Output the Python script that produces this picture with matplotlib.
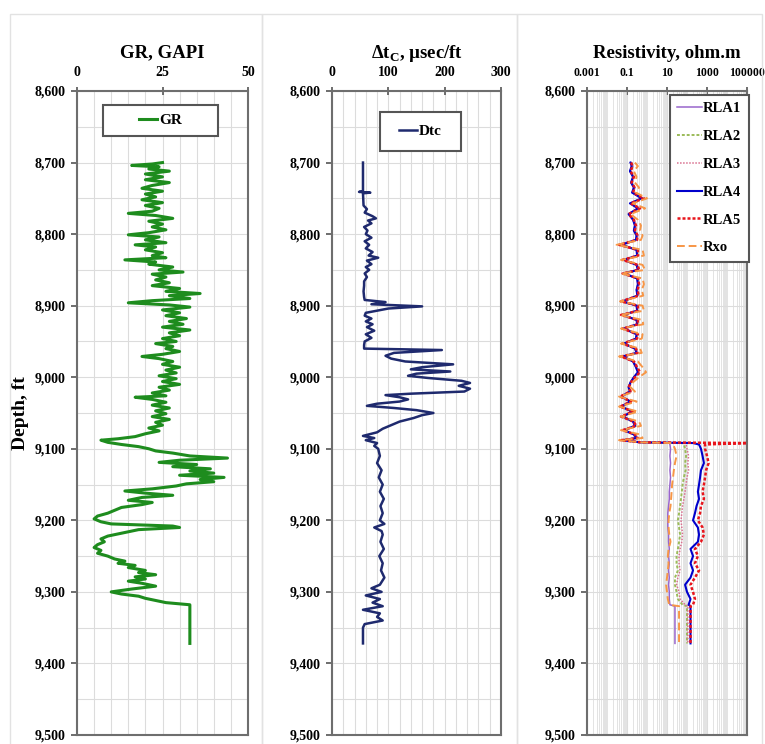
import numpy as np
import matplotlib
matplotlib.use("Agg")
from matplotlib import pyplot as plt
from matplotlib.patches import Rectangle
from matplotlib.ticker import FuncFormatter, MultipleLocator, FixedLocator, LogLocator, NullFormatter

# ---- GR track (depth ft, GAPI) ----
gr_depth = [8700, 8702, 8704, 8706, 8709, 8712, 8716, 8720, 8724, 8728, 8732, 8736, 8740, 8744,
            8748, 8752, 8756, 8760, 8764, 8768, 8771, 8774, 8778, 8782, 8786, 8790, 8794, 8798,
            8801, 8804, 8808, 8812, 8815, 8818, 8822, 8826, 8830, 8833, 8836, 8839, 8842, 8846,
            8850, 8853, 8856, 8860, 8864, 8868, 8872, 8876, 8880, 8883, 8886, 8890, 8893, 8896,
            8899, 8902, 8906, 8910, 8914, 8918, 8922, 8926, 8930, 8934, 8938, 8942, 8946, 8950,
            8953, 8957, 8960, 8964, 8968, 8971, 8974, 8978, 8982, 8986, 8990, 8994, 8998, 9002,
            9006, 9010, 9014, 9018, 9022, 9026, 9028, 9031, 9035, 9039, 9043, 9047, 9051, 9055,
            9059, 9063, 9067, 9071, 9075, 9079, 9083, 9086, 9088, 9091, 9094, 9097, 9100, 9103,
            9106, 9110, 9113, 9116, 9119, 9122, 9125, 9128, 9131, 9134, 9137, 9140, 9143, 9146,
            9149, 9152, 9156, 9159, 9162, 9165, 9168, 9172, 9175, 9178, 9182, 9186, 9190, 9194,
            9198, 9202, 9205, 9208, 9210, 9213, 9216, 9219, 9222, 9226, 9230, 9234, 9238, 9242,
            9246, 9250, 9254, 9257, 9260, 9263, 9266, 9270, 9273, 9276, 9279, 9282, 9285, 9288,
            9292, 9296, 9300, 9303, 9306, 9309, 9312, 9315, 9318, 9372]
gr_value = [25, 22, 16, 24, 21, 27, 20, 25, 20, 27, 22, 19, 25, 20,
            23, 19, 25, 20, 24, 22, 15, 23, 28, 21, 25, 22, 26, 21,
            15, 24, 20, 26, 17, 23, 20, 25, 22, 26, 14, 23, 21, 28,
            24, 31, 22, 26, 23, 27, 22, 30, 26, 36, 27, 33, 22, 15,
            27, 33, 25, 30, 26, 32, 27, 31, 25, 33, 27, 30, 25, 29,
            23, 28, 26, 30, 25, 19, 24, 28, 25, 30, 26, 29, 24, 29,
            25, 30, 24, 27, 22, 26, 17, 22, 26, 22, 27, 23, 26, 22,
            27, 23, 25, 21, 24, 20, 17, 12, 7, 9, 13, 18, 21, 23,
            28, 33, 44, 30, 24, 35, 28, 39, 33, 40, 30, 43, 36, 40,
            32, 29, 22, 14, 20, 28, 19, 15, 22, 19, 13, 11, 9, 6,
            5, 7, 10, 28, 30, 18, 15, 12, 9, 7, 8, 6, 5, 7,
            6, 9, 11, 14, 12, 17, 15, 20, 18, 23, 17, 20, 15, 19,
            23, 16, 10, 13, 18, 20, 23, 26, 33, 33]

# ---- Sonic track (depth ft, usec/ft) ----
dtc_depth = [8700, 8740, 8741, 8742, 8743, 8760, 8765, 8770, 8775, 8778, 8781, 8785, 8790, 8795,
             8800, 8805, 8810, 8815, 8820, 8825, 8830, 8833, 8837, 8842, 8846, 8850, 8855, 8860,
             8866, 8872, 8880, 8888, 8892, 8895, 8898, 8901, 8904, 8907, 8910, 8914, 8918, 8922,
             8926, 8930, 8935, 8940, 8945, 8950, 8955, 8960, 8962, 8966, 8970, 8974, 8978, 8982,
             8986, 8989, 8992, 8995, 8998, 9001, 9005, 9008, 9012, 9016, 9020, 9023, 9025, 9028,
             9031, 9034, 9037, 9040, 9043, 9046, 9050, 9053, 9057, 9062, 9067, 9072, 9077, 9082,
             9085, 9088, 9092, 9096, 9100, 9110, 9120, 9130, 9140, 9150, 9160, 9170, 9180, 9190,
             9200, 9205, 9210, 9215, 9220, 9230, 9240, 9250, 9260, 9270, 9280, 9290, 9295, 9300,
             9305, 9310, 9315, 9320, 9325, 9330, 9335, 9340, 9345, 9350, 9372]
dtc_value = [55, 55, 48, 68, 55, 56, 62, 58, 72, 78, 64, 70, 57, 63,
             60, 70, 58, 66, 60, 72, 65, 82, 62, 70, 60, 66, 58, 62,
             57, 57, 56, 57, 58, 95, 70, 160, 100, 80, 60, 58, 70, 60,
             72, 62, 75, 60, 70, 58, 57, 57, 195, 110, 95, 105, 130, 215,
             160, 140, 210, 150, 135, 170, 230, 245, 225, 245, 235, 140, 95, 120,
             135, 120, 80, 62, 110, 150, 180, 160, 145, 120, 105, 90, 80, 55,
             75, 60, 80, 75, 82, 85, 80, 88, 83, 90, 85, 92, 86, 90,
             85, 93, 75, 88, 90, 86, 92, 84, 90, 87, 93, 85, 70, 88,
             60, 85, 72, 90, 55, 85, 80, 90, 58, 55, 55]

# ---- Resistivity track (depth ft, ohm.m) ----
res_depth = [8700, 8705, 8712, 8720, 8728, 8735, 8742, 8750, 8757, 8764, 8772, 8780, 8788, 8795,
             8802, 8808, 8815, 8822, 8830, 8836, 8843, 8850, 8855, 8862, 8870, 8878, 8886, 8894,
             8900, 8907, 8913, 8920, 8926, 8932, 8940, 8946, 8953, 8960, 8966, 8971, 8978, 8986,
             8993, 9000, 9007, 9014, 9020, 9027, 9034, 9041, 9048, 9055, 9062, 9068, 9074, 9080,
             9085, 9088, 9091, 9092, 9094, 9100, 9110, 9120, 9130, 9140, 9150, 9160, 9170, 9180,
             9190, 9200, 9210, 9220, 9230, 9240, 9250, 9260, 9270, 9280, 9290, 9300, 9310, 9318,
             9320, 9372]
rla1 = [.15, .18, .14, .20, .16, .22, .18, .50, .15, .35, .12, .20, .25, .22,
        .30, .28, .06, .30, .32, .08, .30, .35, .08, .32, .35, .30, .33, .07,
        .30, .32, .07, .30, .32, .08, .30, .28, .08, .25, .30, .07, .20, .28,
        .35, .22, .15, .12, .14, .06, .15, .06, .18, .07, .20, .25, .08, .22,
        .30, .07, .40, 13, 14, 15, 14, 15, 14, 15, 14, 13, 13, 12,
        11, 11, 11, 12, 12, 13, 12, 13, 12, 13, 12, 13, 13, 14,
        25, 25]
rla2 = [.16, .20, .15, .22, .17, .24, .20, .60, .16, .40, .13, .22, .28, .25,
        .32, .30, .05, .32, .35, .07, .33, .38, .07, .35, .38, .33, .36, .06,
        .33, .35, .06, .32, .35, .07, .33, .30, .07, .28, .32, .06, .22, .30,
        .40, .25, .16, .13, .15, .05, .16, .05, .20, .06, .22, .28, .07, .25,
        .32, .06, .45, 60, 70, 80, 90, 80, 85, 70, 60, 55, 50, 45,
        40, 35, 40, 45, 40, 35, 30, 30, 35, 25, 25, 30, 35, 60,
        100, 100]
rla3 = [.17, .20, .16, .22, .18, .25, .20, .65, .17, .45, .13, .24, .30, .26,
        .35, .32, .05, .35, .36, .07, .35, .40, .07, .36, .40, .35, .38, .06,
        .35, .36, .06, .35, .36, .07, .35, .32, .07, .30, .35, .06, .24, .32,
        .42, .26, .17, .13, .16, .05, .17, .05, .20, .06, .24, .30, .07, .26,
        .35, .06, .50, 80, 90, 100, 120, 110, 120, 100, 90, 80, 70, 60,
        55, 50, 55, 60, 55, 45, 40, 40, 45, 35, 30, 40, 45, 80,
        110, 110]
rla4 = [.15, .17, .14, .20, .16, .22, .18, .55, .14, .35, .12, .20, .25, .22,
        .30, .28, .05, .30, .32, .07, .30, .35, .07, .32, .35, .30, .33, .06,
        .30, .32, .06, .30, .32, .07, .30, .28, .07, .25, .30, .06, .20, .28,
        .35, .22, .15, .12, .14, .05, .15, .05, .18, .06, .20, .25, .07, .22,
        .30, .06, .45, 200, 400, 500, 600, 700, 500, 450, 400, 350, 400, 300,
        250, 200, 350, 400, 350, 150, 200, 150, 200, 150, 80, 100, 150, 120,
        150, 150]
rla5 = [.16, .19, .15, .22, .17, .24, .20, .70, .15, .45, .12, .22, .28, .25,
        .34, .32, .04, .35, .36, .06, .34, .40, .06, .36, .40, .34, .38, .05,
        .35, .36, .05, .34, .36, .06, .35, .32, .06, .28, .34, .05, .22, .32,
        .45, .25, .16, .12, .15, .045, .16, .045, .20, .05, .22, .28, .06, .25,
        .35, .05, .50, 100000, 800, 800, 1000, 1200, 900, 800, 700, 600, 700, 500,
        450, 350, 600, 700, 500, 250, 350, 250, 400, 250, 150, 200, 250, 200,
        150, 150]
rxo = [.25, .35, .22, .30, .25, .40, .28, 1.0, .20, .80, .15, .35, .50, .45,
       .60, .50, .03, .60, .70, .05, .60, .80, .05, .60, .70, .55, .65, .045,
       .60, .70, .045, .60, .65, .05, .60, .55, .05, .45, .55, .04, .35, .60,
       .90, .40, .20, .15, .25, .04, .30, .04, .35, .05, .40, .50, .05, .45,
       .60, .04, .50, 15, 20, 25, 30, 25, 22, 20, 18, 17, 16, 15,
       13, 12, 12, 13, 15, 12, 11, 12, 11, 10, 9, 10, 11, 13,
       40, 40]

res_names = ["RLA1", "RLA2", "RLA3", "RLA4", "RLA5", "Rxo"]
res_colors = ["#9966CC", "#9BBB59", "#D9708F", "#0000CC", "#E8141B", "#F79646"]
res_styles = ["-", (0, (1.5, 1)), (0, (1, 1)), "-", (0, (1.2, 0.8)), (0, (4, 2))]
res_widths = [1.1, 1.4, 1.1, 1.5, 1.8, 1.4]

plt.rcParams['font.family'] = ['Liberation Serif', 'DejaVu Serif']
plt.rcParams['font.weight'] = 'bold'

W, H = 765, 744
fig = plt.figure(figsize=(W / 100, H / 100), dpi=100)


def add_track(left, right, top=91, bottom=735):
    return fig.add_axes([left / W, 1 - bottom / H, (right - left) / W, (bottom - top) / H])


def style_track(ax):
    ax.set_ylim(9500, 8600)
    ax.yaxis.set_major_locator(MultipleLocator(100))
    ax.yaxis.set_minor_locator(MultipleLocator(50))
    ax.yaxis.set_major_formatter(FuncFormatter(lambda v, p: f"{v:,.0f}"))
    ax.xaxis.tick_top()
    ax.set_axisbelow(True)
    ax.grid(True, which='both', color='#dcdcdc', lw=0.8)
    ax.tick_params(axis='y', which='major', direction='out', length=4, width=1.2,
                   color='#555555', labelsize=10, pad=4)
    ax.tick_params(axis='x', which='major', direction='inout', length=6, width=1.2,
                   color='#555555', labelsize=10, pad=6)
    ax.tick_params(which='minor', length=0)
    for s in ax.spines.values():
        s.set_color('#6e6e6e')
        s.set_linewidth(1.5)


def legend_box(ax, x0, x1, y0, y1):
    ax.add_patch(Rectangle((x0, y0), x1 - x0, y1 - y0, transform=ax.transAxes,
                           fill=True, fc='white', ec='#555555', lw=1.5, zorder=5))


# panel frames
for fx0, fx1 in [(10, 262), (262, 517), (517, 762)]:
    fig.patches.append(Rectangle((fx0 / W, -0.01), (fx1 - fx0) / W, 1 - 14 / H + 0.01,
                                 transform=fig.transFigure, fill=False, ec='#e2e2e2', lw=1))

# GR
ax1 = add_track(77, 248)
style_track(ax1)
ax1.set_xlim(0, 50)
ax1.xaxis.set_major_locator(MultipleLocator(25))
ax1.xaxis.set_minor_locator(MultipleLocator(5))
ax1.plot(gr_value, gr_depth, color='#1E8C1E', lw=2.2, label='GR')
ax1.set_title('GR, GAPI', fontsize=13.5, fontweight='bold', pad=24)
ax1.set_ylabel('Depth, ft', fontsize=14, fontweight='bold', labelpad=4)
legend_box(ax1, 0.152, 0.825, 0.930, 0.978)
ax1.legend(loc='center', bbox_to_anchor=(0.49, 0.954), frameon=False, fontsize=11,
           handlelength=1.2, handletextpad=0.15).set_zorder(6)

# Sonic
ax2 = add_track(332, 501)
style_track(ax2)
ax2.set_xlim(0, 300)
ax2.xaxis.set_major_locator(MultipleLocator(100))
ax2.xaxis.set_minor_locator(MultipleLocator(20))
ax2.plot(dtc_value, dtc_depth, color='#1F2A6E', lw=1.8, label='Dtc')
ax2.set_title('Δt$_\\mathregular{C}$, µsec/ft', fontsize=13.5, fontweight='bold', pad=24)
legend_box(ax2, 0.284, 0.763, 0.907, 0.967)
ax2.legend(loc='center', bbox_to_anchor=(0.523, 0.937), frameon=False, fontsize=11,
           handlelength=1.2, handletextpad=0.15).set_zorder(6)

# Resistivity
ax3 = add_track(587, 747)
style_track(ax3)
ax3.set_xscale('log')
ax3.set_xlim(1e-3, 1e5)
ax3.xaxis.set_major_locator(FixedLocator([1e-3, 1e-1, 1e1, 1e3, 1e5]))
ax3.xaxis.set_major_formatter(FuncFormatter(lambda v, p: f"{v:g}" if v < 1 else f"{v:.0f}"))
ax3.xaxis.set_minor_locator(LogLocator(base=10, subs=np.arange(1, 10), numticks=100))
ax3.xaxis.set_minor_formatter(NullFormatter())
ax3.grid(False, which='minor', axis='x')
ax3.grid(True, which='minor', axis='x', color='#dedede', lw=0.6)
ax3.tick_params(axis='x', which='major', labelsize=8.5, pad=6)
ax3.tick_params(which='minor', length=0)
for vals, name, c, ls, lw in zip([rla1, rla2, rla3, rla4, rla5, rxo], res_names,
                                  res_colors, res_styles, res_widths):
    ax3.plot(vals, res_depth, color=c, ls=ls, lw=lw, label=name)
ax3.set_title('Resistivity, ohm.m', fontsize=13.5, fontweight='bold', pad=24)
leg = ax3.legend(loc='upper right', bbox_to_anchor=(1.01, 0.994), fontsize=10.5,
                 frameon=True, fancybox=False, edgecolor='#555555', framealpha=1,
                 handlelength=1.7, handletextpad=0.1, labelspacing=1.0, borderpad=0.5,
                 borderaxespad=0)
leg.get_frame().set_linewidth(1.5)

fig.savefig('out.png', dpi=100)
